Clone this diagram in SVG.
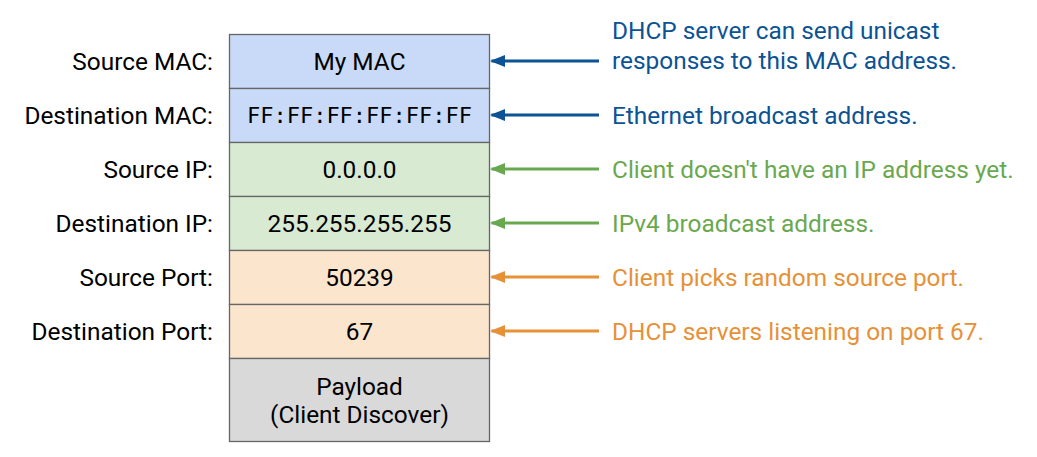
<svg xmlns="http://www.w3.org/2000/svg" width="1037" height="457" viewBox="0 0 1037 457">
<defs>
<style>
.cell{stroke:#666666;stroke-width:1.3}
.t{font-family:Roboto,"Liberation Sans",sans-serif;font-size:24.4px;fill:#000}
.lbl{text-anchor:end}
.mid{text-anchor:middle}
.mono{font-family:"DejaVu Sans Mono","Liberation Mono",monospace;font-size:22px;text-anchor:middle}
.blue{fill:#0b5394}
.green{fill:#6aa84f}
.orange{fill:#e69138}
.ab{stroke:#0b5394;stroke-width:3;fill:none}
.ag{stroke:#6aa84f;stroke-width:3;fill:none}
.ao{stroke:#e69138;stroke-width:3;fill:none}
</style>
<marker id="mb" viewBox="0 0 10 10" refX="9" refY="5" markerWidth="5" markerHeight="4" orient="auto" markerUnits="strokeWidth" preserveAspectRatio="none"><path d="M0,0 L10,5 L0,10 z" fill="#0b5394"/></marker>
<marker id="mg" viewBox="0 0 10 10" refX="9" refY="5" markerWidth="5" markerHeight="4" orient="auto" markerUnits="strokeWidth" preserveAspectRatio="none"><path d="M0,0 L10,5 L0,10 z" fill="#6aa84f"/></marker>
<marker id="mo" viewBox="0 0 10 10" refX="9" refY="5" markerWidth="5" markerHeight="4" orient="auto" markerUnits="strokeWidth" preserveAspectRatio="none"><path d="M0,0 L10,5 L0,10 z" fill="#e69138"/></marker>
</defs>
<rect width="1037" height="457" fill="#ffffff"/>

<g id="labels">
<text class="t lbl" x="213" y="69.5">Source MAC:</text>
<text class="t lbl" x="213" y="123.5">Destination MAC:</text>
<text class="t lbl" x="213" y="177.5">Source IP:</text>
<text class="t lbl" x="213" y="231.5">Destination IP:</text>
<text class="t lbl" x="213" y="285.5">Source Port:</text>
<text class="t lbl" x="213" y="339.5">Destination Port:</text>
</g>

<g id="src-mac"><rect class="cell" x="229.5" y="34.5" width="260" height="54" fill="#c9daf8"/><text class="t mid" x="359.5" y="69.5">My MAC</text></g>
<g id="dst-mac"><rect class="cell" x="229.5" y="88.5" width="260" height="54" fill="#c9daf8"/><text class="mono" x="359.5" y="123">FF:FF:FF:FF:FF:FF</text></g>
<g id="src-ip"><rect class="cell" x="229.5" y="142.5" width="260" height="54" fill="#d9ead3"/><text class="t mid" x="359.5" y="177.5">0.0.0.0</text></g>
<g id="dst-ip"><rect class="cell" x="229.5" y="196.5" width="260" height="54" fill="#d9ead3"/><text class="t mid" x="359.5" y="231.5">255.255.255.255</text></g>
<g id="src-port"><rect class="cell" x="229.5" y="250.5" width="260" height="54" fill="#fce5cd"/><text class="t mid" x="359.5" y="285.5">50239</text></g>
<g id="dst-port"><rect class="cell" x="229.5" y="304.5" width="260" height="54" fill="#fce5cd"/><text class="t mid" x="359.5" y="339.5">67</text></g>
<g id="payload"><rect class="cell" x="229.5" y="358.5" width="260" height="83" fill="#d9d9d9"/><text class="t mid" x="359.5" y="395">Payload</text><text class="t mid" x="359.5" y="423">(Client Discover)</text></g>

<g id="connectors">
<line class="ab" x1="599" y1="61" x2="491.5" y2="61" marker-end="url(#mb)"/>
<line class="ab" x1="599" y1="115" x2="491.5" y2="115" marker-end="url(#mb)"/>
<line class="ag" x1="599" y1="169" x2="491.5" y2="169" marker-end="url(#mg)"/>
<line class="ag" x1="599" y1="223" x2="491.5" y2="223" marker-end="url(#mg)"/>
<line class="ao" x1="599" y1="277" x2="491.5" y2="277" marker-end="url(#mo)"/>
<line class="ao" x1="599" y1="331" x2="491.5" y2="331" marker-end="url(#mo)"/>
</g>

<g id="notes">
<text class="t blue" x="612" y="38.5">DHCP server can send unicast</text>
<text class="t blue" x="612" y="68.5">responses to this MAC address.</text>
<text class="t blue" x="612" y="123.5">Ethernet broadcast address.</text>
<text class="t green" x="612" y="177.5">Client doesn't have an IP address yet.</text>
<text class="t green" x="612" y="231.5">IPv4 broadcast address.</text>
<text class="t orange" x="612" y="285.5">Client picks random source port.</text>
<text class="t orange" x="612" y="339.5">DHCP servers listening on port 67.</text>
</g>
</svg>
